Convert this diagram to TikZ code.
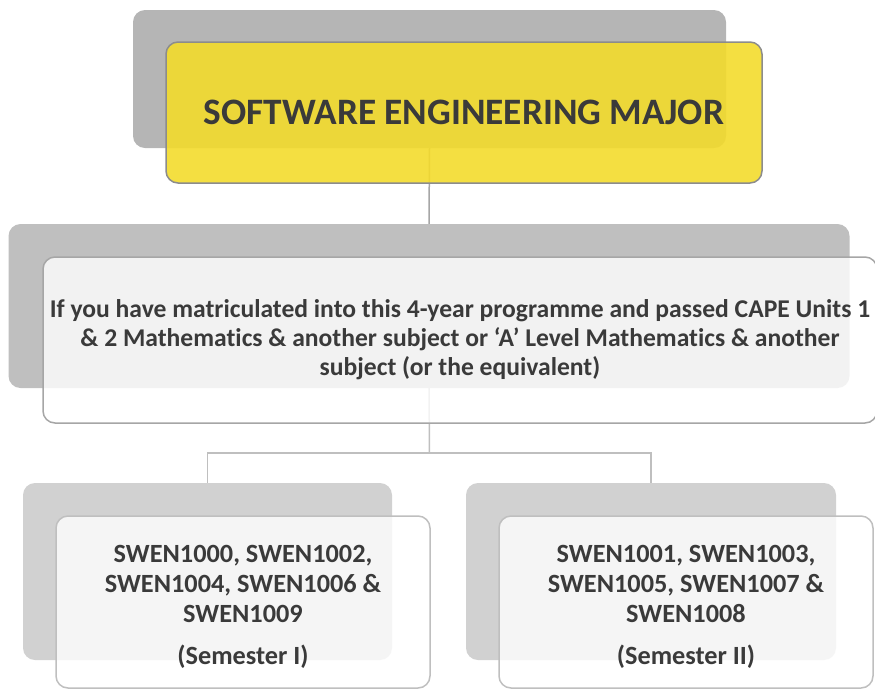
\documentclass[tikz,border=0pt]{standalone}
\usepackage{fontspec}
\setmainfont{Carlito}[Ligatures=NoCommon]
\usepackage{xcolor}
\usetikzlibrary{positioning}

\definecolor{darktext}{HTML}{3A3A3A}
\definecolor{majoryellow}{HTML}{F3DB2C}

\begin{document}
\begin{tikzpicture}[x=1pt,y=-1pt,
  backbox/.style={rounded corners=12pt, inner sep=0pt},
  frontbox/.style={rounded corners=12pt, inner sep=0pt, line width=1.5pt,
    text=darktext, font=\bfseries, align=center},
  semtext/.style={text=darktext, align=center, font=\bfseries\fontsize{26.3}{30}\selectfont},
  link/.style={line width=1.5pt}]
\clip (0,0) rectangle (875,689);

% shadow boxes
\node (majorback) [backbox, fill=black!29, minimum width=593pt, minimum height=138pt] at (429.5,79) {};
\node (reqback) [backbox, fill=black!25, minimum width=841pt, minimum height=164pt] at (429,306) {};
\node (semoneback) [backbox, fill=black!18, minimum width=369pt, minimum height=177pt] at (207.5,571.5) {};
\node (semtwoback) [backbox, fill=black!18, minimum width=370pt, minimum height=177pt] at (651,571.5) {};

% connectors
\coordinate (split) at (429.5,453);
\draw [link, black!35] (majorback.south) -- (reqback.north);
\draw [link, black!25] (reqback.south) -- (split);
\draw [link, black!25] (semoneback.north) |- (split) -| (semtwoback.north);

% front boxes
\node (major) [frontbox, draw=black!45, fill=majoryellow, fill opacity=0.9, text opacity=1,
  minimum width=596pt, minimum height=141pt, font=\bfseries\fontsize{37.3}{42}\selectfont]
  at (464,112.5) {SOFTWARE ENGINEERING MAJOR};
\node (req) [frontbox, draw=black!35, fill=white, fill opacity=0.8, text opacity=1,
  minimum width=834pt, minimum height=166pt, font=\bfseries\fontsize{25.6}{29}\selectfont]
  at (460,340) {If you have matriculated into this 4-year programme and passed CAPE Units 1\\
  \& 2 Mathematics \& another subject or `A' Level Mathematics \& another\\
  subject (or the equivalent)};
\node (semone) [frontbox, draw=black!25, fill=white, fill opacity=0.8,
  minimum width=374pt, minimum height=172pt] at (243,602) {};
\node (semtwo) [frontbox, draw=black!25, fill=white, fill opacity=0.8,
  minimum width=374pt, minimum height=172pt] at (686,602) {};

% semester texts
\node (semonetext) [semtext] at (243,607) {SWEN1000, SWEN1002,\\ SWEN1004, SWEN1006 \&\\ SWEN1009\\[12pt] (Semester I)};
\node (semtwotext) [semtext] at (686,607) {SWEN1001, SWEN1003,\\ SWEN1005, SWEN1007 \&\\ SWEN1008\\[12pt] (Semester II)};
\end{tikzpicture}
\end{document}
